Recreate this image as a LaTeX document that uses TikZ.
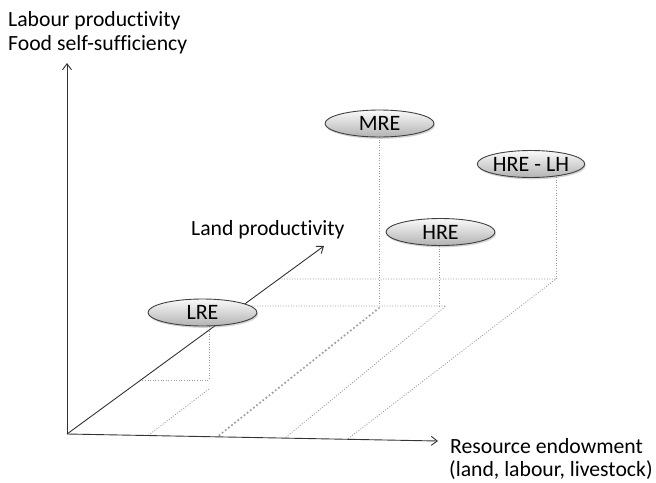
\documentclass[tikz,border=0pt]{standalone}
\usepackage{fontspec}
\setmainfont{Carlito}[Ligatures=NoCommon]
\usetikzlibrary{shapes.geometric,shadows,arrows.meta}
\begin{document}
\begin{tikzpicture}[x=1pt,y=-1pt,
  lbl/.style={font=\fontsize{21.7}{24}\selectfont, inner sep=0, anchor=base west},
  ell/.style={ellipse, draw=black!75, line width=0.9pt, top color=gray!4, bottom color=gray!60,
     minimum width=109pt, minimum height=27pt, inner sep=0,
     font=\fontsize{22}{24}\selectfont,
     drop shadow={shadow xshift=1pt, shadow yshift=-1.8pt, opacity=0.35}},
  axis/.style={line width=0.9pt, black!80, -{Straight Barb[length=6pt,width=9pt]}},
  dots/.style={gray!80, line width=0.8pt, dash pattern=on 1pt off 1.6pt},
  bigdots/.style={gray!75, line width=2.4pt, dash pattern=on 0pt off 4pt, line cap=round}]
\useasboundingbox (0,0) rectangle (656,482);
% coordinates
\coordinate (o) at (67,434);
\coordinate (ytip) at (67,63);
\coordinate (xtip) at (438,441);
\coordinate (dtip) at (324,246);
% LRE box
\coordinate (l1) at (209,380);
\coordinate (l2) at (140,380);
\coordinate (l3) at (209,389);
\coordinate (l4) at (148,435.5);
% horizontals
\coordinate (h1a) at (244,306);
\coordinate (h1b) at (446,306);
\coordinate (h2a) at (279,279);
\coordinate (h2b) at (556,279);
% MRE
\coordinate (m1) at (379,306);
\coordinate (m2) at (379,308);
\coordinate (m3) at (217,437);
% HRE
\coordinate (r1) at (439,306);
\coordinate (r2) at (285,438);
% HRE-LH
\coordinate (q2) at (347,439.5);
% dotted lines
\draw[dots] (209,326) -- (l1) -- (l2);
\draw[dots] (l3) -- (l4);
\draw[dots] (h1a) -- (h1b) -- (r2);
\draw[dots] (h2a) -- (h2b) -- (q2);
\draw[dots] (379,137) -- (m1);
\draw[bigdots] (m2) -- (m3);
\draw[dots] (439,246) -- (r1);
\draw[dots] (556,177) -- (h2b);
% axes
\draw[axis] (o) -- (ytip);
\draw[axis] (o) -- (xtip);
\draw[axis] (o) -- (dtip);
% labels
\node[lbl] (t1) at (8,26) {Labour productivity};
\node[lbl] (t2) at (8,50) {Food self-sufficiency};
\node[lbl] (t3) at (191,235) {Land productivity};
\node[lbl] (t4) at (450,453) {Resource endowment};
\node[lbl] (t5) at (449,476) {(land, labour, livestock)};
% ellipses
\node[ell] (lre) at (202.5,312.5) {LRE};
\node[ell] (mre) at (379.5,123.5) {MRE};
\node[ell] (hre) at (440.5,232) {HRE};
\node[ell, minimum width=106pt] (hrelh) at (531,164) {HRE - LH};
\end{tikzpicture}
\end{document}
